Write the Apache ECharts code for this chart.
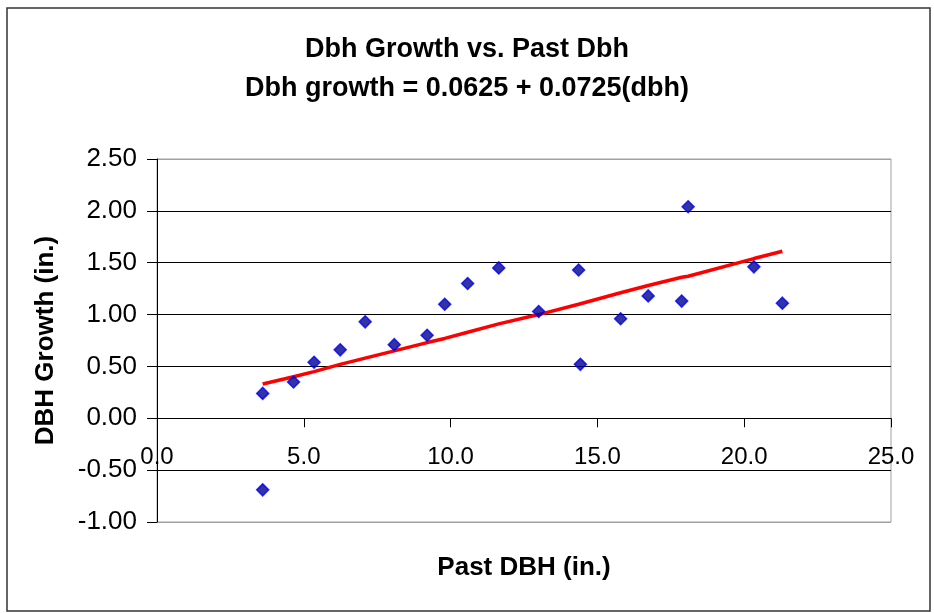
<!DOCTYPE html>
<html>
<head>
<meta charset="utf-8">
<script src="https://cdn.jsdelivr.net/npm/echarts@6/dist/echarts.min.js"></script>
<style>
html,body{margin:0;padding:0;background:#fff;}
#chart{width:934px;height:613px;}
</style>
</head>
<body>
<div id="chart"></div>
<script>
var pastDbh = [3.6, 3.6, 4.65, 5.35, 6.24, 7.09, 8.08, 9.2, 9.8, 10.58, 11.64, 13.0, 14.36, 14.42, 15.79, 16.73, 17.87, 18.09, 20.33, 21.3];
var dbhGrowth = [0.24, -0.69, 0.35, 0.54, 0.66, 0.93, 0.71, 0.80, 1.10, 1.30, 1.45, 1.03, 1.43, 0.52, 0.96, 1.18, 1.13, 2.04, 1.46, 1.11];
// Trend line points
var trendX = [3.6, 4.65, 5.35, 6.24, 7.09, 8.08, 9.2, 9.8, 10.58, 11.64, 13.0, 14.36, 14.42, 15.79, 16.73, 17.87, 18.09, 20.33, 21.3];
var trendY = [0.33, 0.40, 0.45, 0.52, 0.58, 0.65, 0.73, 0.77, 0.83, 0.91, 1.00, 1.10, 1.11, 1.21, 1.28, 1.36, 1.37, 1.54, 1.61];
var titleLines = ['Dbh Growth vs. Past Dbh', 'Dbh growth = 0.0625 + 0.0725(dbh)'];
var xName = 'Past DBH (in.)';
var yName = 'DBH Growth (in.)';

var scatterData = pastDbh.map(function (x, i) { return [x, dbhGrowth[i]]; });
var trendData = trendX.map(function (x, i) { return [x, trendY[i]]; });

var chart = echarts.init(document.getElementById('chart'), null, {renderer: 'canvas'});
var FONT = '"Liberation Sans", Arial, sans-serif';
chart.setOption({
  backgroundColor: '#fff',
  animation: false,
  title: {
    text: titleLines.join('\n'),
    left: 'center',
    top: 25,
    textStyle: {fontFamily: FONT, fontWeight: 'bold', fontSize: 27, lineHeight: 39, color: '#000'}
  },
  graphic: [{
    type: 'rect',
    shape: {x: 7, y: 8, width: 923, height: 603},
    style: {fill: 'none', stroke: '#333', lineWidth: 1.5},
    silent: true
  }],
  grid: {left: 157, right: 43, top: 159, bottom: 91, show: true, borderColor: '#a0a0a0', borderWidth: 1,
    backgroundColor: 'transparent', containLabel: false, outerBoundsMode: 'none'},
  xAxis: {
    type: 'value', min: 0, max: 25, interval: 5,
    name: xName, nameLocation: 'middle', nameGap: 33,
    nameTextStyle: {fontFamily: FONT, fontWeight: 'bold', fontSize: 26, color: '#000'},
    axisLine: {show: false, onZero: true, lineStyle: {color: '#000', width: 1}},
    axisTick: {show: true, length: 9, lineStyle: {color: '#000'}},
    axisLabel: {fontFamily: FONT, fontSize: 24, color: '#000', margin: -77,
      formatter: function (v) { return v.toFixed(1); }},
    splitLine: {show: false}
  },
  yAxis: {
    type: 'value', min: -1, max: 2.5, interval: 0.5,
    name: yName, nameLocation: 'middle', nameGap: 98, nameRotate: 90,
    nameTextStyle: {fontFamily: FONT, fontWeight: 'bold', fontSize: 26, color: '#000'},
    axisLine: {show: true, onZero: false, lineStyle: {color: '#000', width: 1}},
    axisTick: {show: true, length: 10, lineStyle: {color: '#000'}},
    axisLabel: {fontFamily: FONT, fontSize: 26, color: '#000', margin: 20,
      formatter: function (v) { return v.toFixed(2); }},
    splitLine: {show: true, lineStyle: {color: ['#a0a0a0', '#000', '#000', '#000', '#000', '#000', '#000', '#a0a0a0'], width: 1}}
  },
  series: [
    {
      type: 'scatter', data: scatterData, symbol: 'diamond', symbolSize: 12,
      itemStyle: {color: '#00008B', borderColor: '#0000FF', borderWidth: 1.5}, z: 3
    },
    {
      type: 'line', data: trendData, showSymbol: false, symbol: 'none',
      lineStyle: {color: '#FF0000', width: 3.5}, z: 2
    }
  ]
});
</script>
</body>
</html>
